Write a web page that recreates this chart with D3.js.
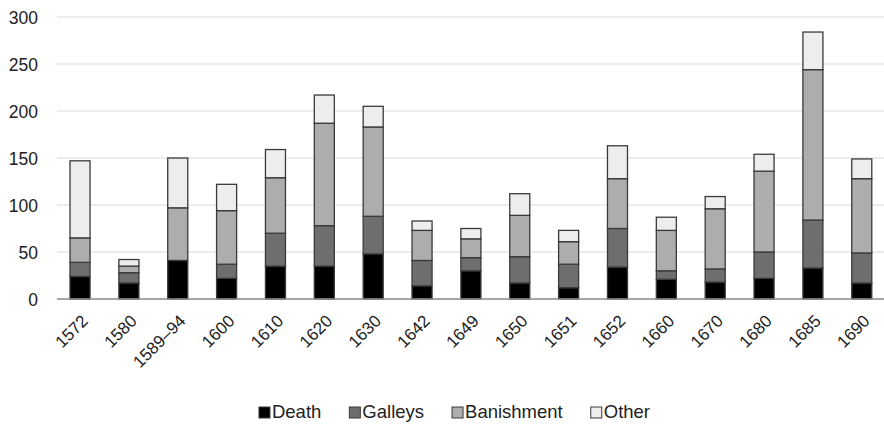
<!DOCTYPE html>
<html><head><meta charset="utf-8">
<script src="https://cdn.jsdelivr.net/npm/d3@7"></script>
<style>body{margin:0;background:#fff}svg{display:block}text{font-family:"Liberation Sans",Arial,sans-serif;fill:#222}</style>
</head><body><svg id="c" width="884" height="425"></svg>
<script>
const categories = ["1572","1580","1589–94","1600","1610","1620","1630","1642","1649","1650","1651","1652","1660","1670","1680","1685","1690"];
const death      = [24,17,41,22,35,35,48,14,30,17,12,34,21,18,22,33,17];
const galleys    = [15,11, 0,15,35,43,40,27,14,28,25,41, 9,14,28,51,32];
const banishment = [26, 7,56,57,59,109,95,32,20,44,24,53,43,64,86,160,79];
const other      = [82, 7,53,28,30,30,22,10,11,23,12,35,14,13,18,40,21];
const seriesNames = ["Death","Galleys","Banishment","Other"];
const seriesColors = ["#000000","#6e6e6e","#adadad","#ededed"];
const yTicks = [0,50,100,150,200,250,300];

const rows = categories.map((c,i)=>({cat:c, Death:death[i], Galleys:galleys[i], Banishment:banishment[i], Other:other[i]}));
const svg = d3.select("#c");
const x = d3.scaleBand().domain(categories).range([55.6,886.2]).paddingInner(0.59).paddingOuter(0.295);
const y = d3.scaleLinear().domain([0,300]).range([299,17]);

// gridlines
svg.append("g").selectAll("line").data(yTicks.filter(d=>d>0)).join("line")
  .attr("x1",57).attr("x2",884).attr("y1",d=>y(d)).attr("y2",d=>y(d))
  .attr("stroke","#d9d9d9").attr("stroke-width",1.2);

// y labels
const yAxis = svg.append("g").attr("transform","translate(38,0)")
  .call(d3.axisLeft(y).tickValues(yTicks).tickSize(0).tickPadding(0));
yAxis.select(".domain").remove();
yAxis.selectAll("text").attr("font-size",17.5).attr("font-family","Liberation Sans, Arial, sans-serif").attr("fill","#222").attr("dy","0.35em");

// stacked bars
const stack = d3.stack().keys(seriesNames)(rows);
const color = d3.scaleOrdinal().domain(seriesNames).range(seriesColors);
svg.append("g").selectAll("g").data(stack).join("g").attr("fill",d=>color(d.key))
  .selectAll("rect").data(d=>d.filter(p=>p[1]-p[0]>0)).join("rect")
  .attr("x",d=>x(d.data.cat)).attr("width",x.bandwidth())
  .attr("y",d=>y(d[1])).attr("height",d=>y(d[0])-y(d[1]))
  .attr("stroke","#3a3a3a").attr("stroke-width",1.3);

// x axis
const xAxis = svg.append("g").attr("transform","translate(0,299)")
  .call(d3.axisBottom(x).tickSize(0).tickPadding(0));
xAxis.select(".domain").attr("d","M57,0H884").attr("stroke","#8a8a8a").attr("stroke-width",1.5);
xAxis.selectAll("text").attr("font-size",17).attr("font-family","Liberation Sans, Arial, sans-serif").attr("fill","#222")
  .attr("text-anchor","end").attr("dy",null).attr("y",0)
  .attr("transform","translate(9,23) rotate(-45)");

// legend
const lg = svg.append("g");
let cx = 0;
seriesNames.forEach((s,i)=>{
  const g = lg.append("g").attr("transform",`translate(${cx},0)`);
  g.append("rect").attr("x",0).attr("y",-11).attr("width",11).attr("height",11)
    .attr("fill",seriesColors[i]).attr("stroke","#3a3a3a").attr("stroke-width",1);
  const t = g.append("text").attr("x",13).attr("y",0).attr("font-size",18.5).text(s);
  cx += 13 + t.node().getComputedTextLength() + 28;
});
const lw = cx - 28;
lg.attr("transform",`translate(${454.5 - lw/2},418)`);
</script></body></html>
